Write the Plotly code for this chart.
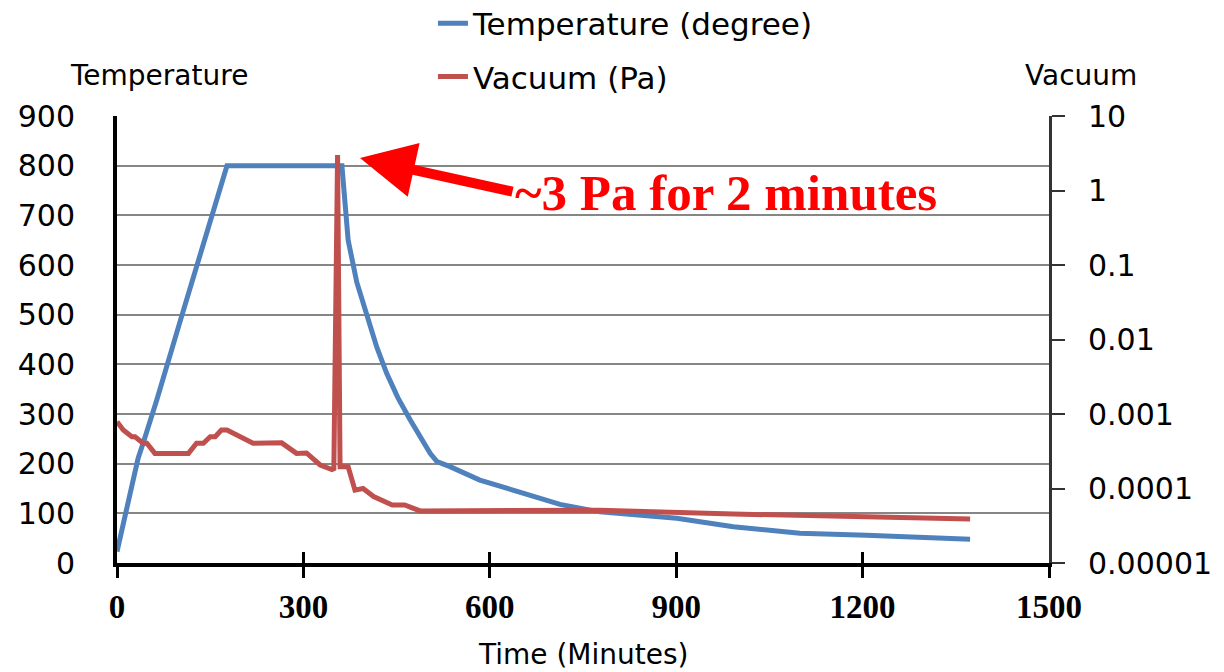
import plotly.graph_objects as go

# Furnace temperature profile (degree) against time (minutes)
temp_time = [0, 13, 26, 34, 42, 53, 64, 100, 140, 177, 362, 372, 386, 402, 418,
             434, 452, 472, 490, 504, 515, 536, 584, 649, 713, 777, 901, 992,
             1099, 1206, 1300, 1373]
temp_value = [23, 93, 164, 211, 241, 281, 328, 480, 645, 800, 800, 650, 565, 496, 435,
              382, 333, 288, 252, 221, 204, 194, 167, 141, 118, 103, 90, 73,
              60, 56, 52, 48]

# Chamber vacuum (Pa) against time (minutes)
vac_time = [0, 10, 24, 29, 42, 48, 61, 115, 128, 139, 150, 158, 168, 177, 219, 265,
            289, 305, 327, 346, 349, 355, 359, 372, 383, 396, 413, 427, 443, 456,
            463, 488, 777, 992, 1206, 1373]
vac_value = [7.9e-4, 6.1e-4, 4.95e-4, 4.95e-4, 4.05e-4, 4.05e-4, 2.96e-4, 2.96e-4,
             4.05e-4, 4.05e-4, 4.95e-4, 4.95e-4, 6.1e-4, 6.1e-4, 4.05e-4, 4.1e-4,
             2.96e-4, 3.0e-4, 2.07e-4, 1.8e-4, 1.85e-4, 3.0, 1.96e-4, 1.96e-4,
             9.5e-5, 1.0e-4, 7.8e-5, 7.0e-5, 6.0e-5, 6.0e-5, 6.0e-5, 5.0e-5,
             5.1e-5, 4.55e-5, 4.19e-5, 3.9e-5]

x_ticks = [0, 300, 600, 900, 1200, 1500]
temp_ticks = [0, 100, 200, 300, 400, 500, 600, 700, 800, 900]
vac_ticks = [1e-5, 1e-4, 1e-3, 1e-2, 1e-1, 1, 10]
vac_tick_text = ["0.00001", "0.0001", "0.001", "0.01", "0.1", "1", "10"]

BLUE = "#4F81BD"
RED = "#C0504D"
SANS = "DejaVu Sans"
SERIF = "Liberation Serif"

fig = go.Figure()
fig.add_trace(go.Scatter(
    x=temp_time, y=temp_value, mode="lines", name="Temperature (degree)",
    line=dict(color=BLUE, width=5), xaxis="x", yaxis="y", legendgroup="t",
))
fig.add_trace(go.Scatter(
    x=vac_time, y=vac_value, mode="lines", name="Vacuum (Pa)",
    line=dict(color=RED, width=5), xaxis="x2", yaxis="y2", legendgroup="v",
))

fig.update_layout(
    width=1224, height=672,
    margin=dict(l=117, r=175, t=116, b=109, autoexpand=False),
    paper_bgcolor="white", plot_bgcolor="white",
    showlegend=True,
    legend=dict(
        x=0.339, y=1.267, xanchor="left", yanchor="top",
        orientation="v", tracegroupgap=10,
        font=dict(family=SANS, size=31, color="black"),
        bgcolor="rgba(0,0,0,0)",
    ),
    xaxis=dict(
        range=[0, 1500], tickvals=x_ticks, ticks="outside", ticklen=11,
        tickwidth=3, tickcolor="black", showline=True, linecolor="black",
        linewidth=4, showgrid=False, zeroline=False,
        tickfont=dict(family=SERIF, size=33, color="black", weight="bold"),
        ticklabelstandoff=0,
    ),
    xaxis2=dict(
        range=[0, 1500], tickvals=x_ticks, overlaying="x", side="bottom",
        anchor="y2", ticks="inside", ticklen=11, tickwidth=3, tickcolor="black",
        showticklabels=False, showline=False, showgrid=False, zeroline=False,
    ),
    yaxis=dict(
        range=[0, 900], tickvals=temp_ticks, ticks="", showline=True,
        linecolor="black", linewidth=4, showgrid=True, gridcolor="#868686",
        gridwidth=2, zeroline=False,
        tickfont=dict(family=SANS, size=30, color="black"),
        ticklabelstandoff=32,
    ),
    yaxis2=dict(
        type="log", range=[-5, 1], tickvals=vac_ticks, ticktext=vac_tick_text,
        overlaying="y", side="right", anchor="x", ticks="outside", ticklen=13,
        tickwidth=2, tickcolor="#333333", showline=True, linecolor="#333333",
        linewidth=3, showgrid=False, zeroline=False,
        tickfont=dict(family=SANS, size=30, color="black"),
        ticklabelstandoff=17,
    ),
)

# Axis captions
caption_font = dict(family=SANS, size=28, color="black")
fig.add_annotation(text="Temperature", xref="paper", yref="paper", x=0.0456, y=1.0917,
                   xanchor="center", yanchor="middle", showarrow=False, font=caption_font)
fig.add_annotation(text="Vacuum", xref="paper", yref="paper", x=1.0343, y=1.0917,
                   xanchor="center", yanchor="middle", showarrow=False, font=caption_font)
fig.add_annotation(text="Time (Minutes)", xref="paper", yref="paper", x=0.5, y=-0.2058,
                   xanchor="center", yanchor="middle", showarrow=False, font=caption_font)

# Callout for the pressure burst
fig.add_annotation(text="", xref="paper", yref="paper", x=0.2607, y=0.906,
                   ax=154, ay=34, showarrow=True, arrowhead=2, arrowsize=1.1,
                   arrowwidth=10, arrowcolor="#FF0000", standoff=0)
fig.add_annotation(text="~3 Pa for 2 minutes", xref="paper", yref="paper",
                   x=0.6535, y=0.8277, xanchor="center", yanchor="middle",
                   showarrow=False,
                   font=dict(family=SERIF, size=51, color="#FF0000", weight="bold"))

fig.write_html("out.html")
